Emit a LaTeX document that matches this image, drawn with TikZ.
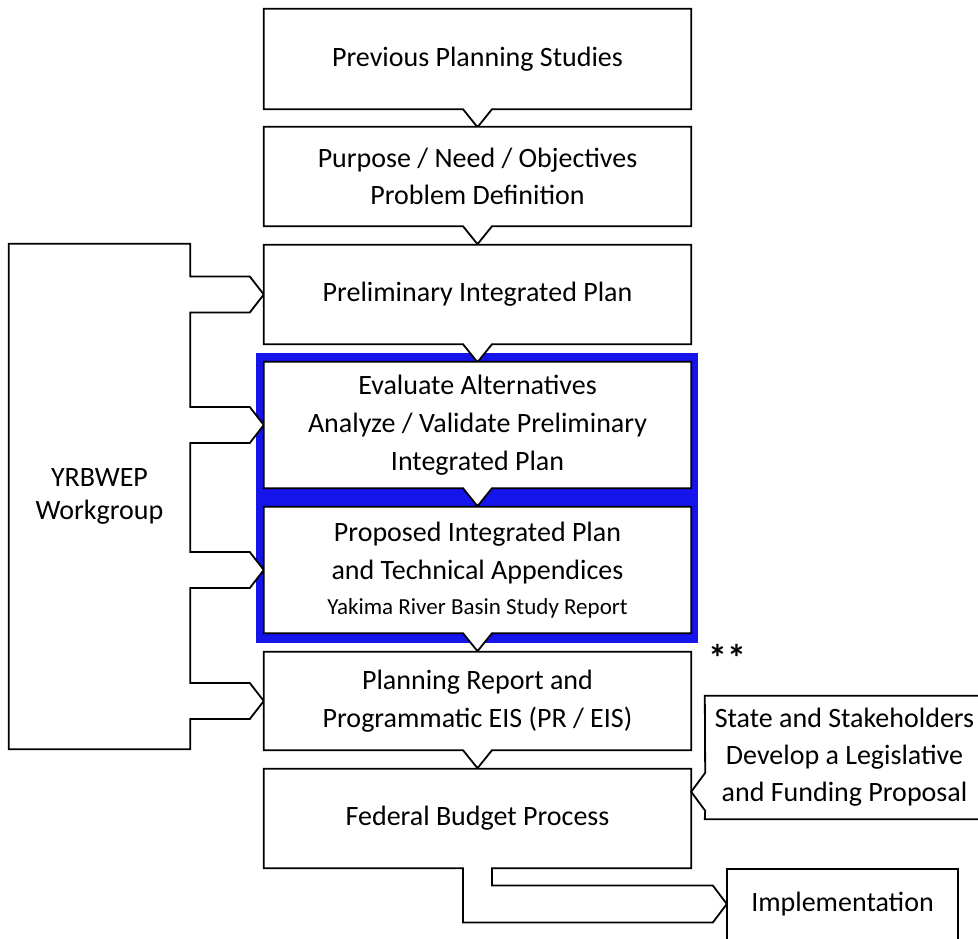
\documentclass[tikz,border=0pt]{standalone}
\usepackage{fontspec}
\setmainfont{Carlito}
\usetikzlibrary{calc,backgrounds}
\definecolor{frameblue}{RGB}{20,20,235}
\newcommand\chevbox[1]{\draw[outline] (#1.north west) -- (#1.north east) -- (#1.south east) -- ($(#1.south)+(14.5,0)$) -- ($(#1.south)+(0,18)$) -- ($(#1.south)+(-14.5,0)$) -- (#1.south west) -- cycle;}
\begin{document}
\begin{tikzpicture}[x=1pt,y=-1pt,
  outline/.style={draw=black, line width=1.8pt, fill=white, line join=miter},
  lbl/.style={inner sep=0pt, align=center, font=\fontsize{28}{38}\selectfont},
  box/.style={lbl, minimum width=427pt}]
\useasboundingbox (0,0) rectangle (978,939);

% text nodes
\node[box, minimum height=100pt] (b1) at (477.5,59) {Previous Planning Studies};
\node[box, minimum height=99pt] (b2) at (477.5,176.5) {Purpose / Need / Objectives\\[-1pt]Problem Definition};
\node[box, minimum height=99pt] (b3) at (477.5,294.5) {Preliminary Integrated Plan};
\node[box, minimum height=126pt] (b4) at (477.5,425) {Evaluate Alternatives\\Analyze / Validate Preliminary\\Integrated Plan};
\node[box, minimum height=126pt] (b5) at (477.5,570) {Proposed Integrated Plan\\and Technical Appendices\\[-3pt]{\fontsize{23}{38}\selectfont Yakima River Basin Study Report}};
\node[box, minimum height=98pt] (b6) at (477.5,701) {Planning Report and\\Programmatic EIS (PR / EIS)};
\node[box, minimum height=99pt] (b7) at (477.5,818.5) {Federal Budget Process};
\node[lbl, minimum width=181pt, minimum height=505pt] (wg) at (99.5,496.5) {YRBWEP\\[-5pt]Workgroup};
\node[lbl, minimum width=279pt, minimum height=123pt] (cb) at (844.5,757.5) {State and Stakeholders\\[-1pt]Develop a Legislative\\[-1pt]and Funding Proposal};
\node[lbl, minimum width=231pt, minimum height=70pt] (im) at (842.5,904) {Implementation};
\node[inner sep=0pt, anchor=base, font=\bfseries\fontsize{38}{40}\selectfont] (ast) at (727.5,671) {**};

\begin{scope}[on background layer]
  % blue highlight frame
  \fill[frameblue] ($(b4.north west)+(-8,-9)$) rectangle ($(b5.south east)+(7,10)$);
  % workgroup with its four arrows
  \draw[outline] (wg.north west) -- (wg.north east)
    -- ($(wg.east |- b3.west)+(0,-18)$) -- ($(b3.west)+(-14,-18)$) -- (b3.west) -- ($(b3.west)+(-14,18)$) -- ($(wg.east |- b3.west)+(0,18)$)
    -- ($(wg.east |- b4.west)+(0,-18)$) -- ($(b4.west)+(-14,-18)$) -- (b4.west) -- ($(b4.west)+(-14,18)$) -- ($(wg.east |- b4.west)+(0,18)$)
    -- ($(wg.east |- b5.west)+(0,-18)$) -- ($(b5.west)+(-14,-18)$) -- (b5.west) -- ($(b5.west)+(-14,18)$) -- ($(wg.east |- b5.west)+(0,18)$)
    -- ($(wg.east |- b6.west)+(0,-18)$) -- ($(b6.west)+(-14,-18)$) -- (b6.west) -- ($(b6.west)+(-14,18)$) -- ($(wg.east |- b6.west)+(0,18)$)
    -- (wg.south east) -- (wg.south west) -- cycle;
  % main chain
  \chevbox{b1}
  \chevbox{b2}
  \chevbox{b3}
  \chevbox{b4}
  \chevbox{b5}
  \chevbox{b6}
  % federal budget box with bent arrow to implementation
  \draw[outline] (b7.north west) -- (b7.north east) -- (b7.south east)
    -- ($(b7.south)+(14.5,0)$) -- ($(b7.south |- im.west)+(14.5,-18.5)$)
    -- ($(im.west)+(-14,-18.5)$) -- (im.west) -- ($(im.west)+(-14,18.5)$)
    -- ($(b7.south |- im.west)+(-14.5,18.5)$) -- ($(b7.south)+(-14.5,0)$)
    -- (b7.south west) -- cycle;
  % callout pointing to federal budget box
  \coordinate (ctip) at ($(b7.north east)+(0,23)$);
  \draw[outline] (cb.north west) -- (cb.north east) -- (cb.south east) -- (cb.south west)
    -- ($(ctip)+(14,19)$) -- (ctip) -- ($(ctip)+(14,-19)$) -- cycle;
  % implementation
  \draw[outline] (im.north west) -- (im.north east) -- ($(im.south east)+(0,20)$) -- ($(im.south west)+(0,20)$) -- cycle;
\end{scope}
\end{tikzpicture}
\end{document}
